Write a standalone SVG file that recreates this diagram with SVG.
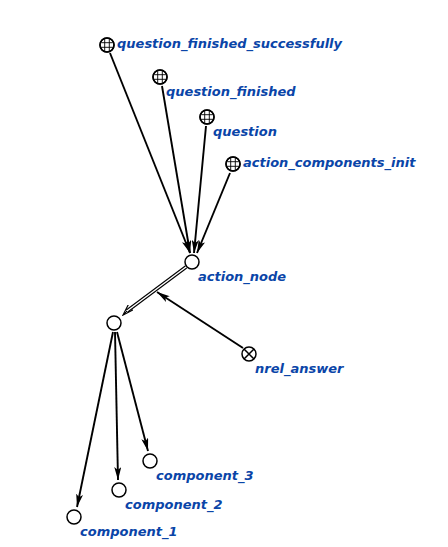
<svg xmlns="http://www.w3.org/2000/svg" width="448" height="547" viewBox="0 0 448 547">
<style>
.lbl{font-family:"DejaVu Sans",sans-serif;font-size:13px;font-weight:bold;font-style:italic;fill:#0a45a8}
.edge{stroke:#000;stroke-width:1.9;fill:none}
.node{fill:#fff;stroke:#000;stroke-width:1.5}
.grid{stroke:#000;stroke-width:0.9;fill:none}
</style>
<defs>
<marker id="ah" viewBox="0 0 13 7" refX="13" refY="3.5" markerWidth="13" markerHeight="7" markerUnits="userSpaceOnUse" orient="auto">
<path d="M0,0 L13,3.5 L0,7 L3,3.5 Z" fill="#000"/>
</marker>
<marker id="ah2" viewBox="0 0 12 8" refX="11" refY="4" markerWidth="12" markerHeight="8" markerUnits="userSpaceOnUse" orient="auto">
<path d="M0,0.5 L11,4 L0,7.5" fill="none" stroke="#000" stroke-width="1.2"/>
</marker>
<clipPath id="cc"><circle cx="0" cy="0" r="6.5"/></clipPath>
<g id="gridnode">
<circle class="node" cx="0" cy="0" r="7"/>
<g clip-path="url(#cc)" class="grid">
<path d="M-2.3,-7 V7 M2.3,-7 V7 M-7,-2.3 H7 M-7,2.3 H7"/>
</g>
<circle cx="0" cy="0" r="7" fill="none" stroke="#000" stroke-width="1.5"/>
</g>
</defs>
<g id="connectors">
<line class="edge" x1="110" y1="53" x2="190" y2="253" marker-end="url(#ah)"/>
<line class="edge" x1="162" y1="86" x2="190" y2="253" marker-end="url(#ah)"/>
<line class="edge" x1="206" y1="126" x2="194" y2="253" marker-end="url(#ah)"/>
<line class="edge" x1="230" y1="173" x2="197" y2="253" marker-end="url(#ah)"/>
<line x1="186" y1="267" x2="127" y2="311" stroke="#000" stroke-width="3.6"/>
<line x1="186" y1="267" x2="127" y2="311" stroke="#fff" stroke-width="1.4"/>
<line x1="127" y1="311" x2="123" y2="315" stroke="#000" stroke-width="1" marker-end="url(#ah2)"/>
<line class="edge" x1="243" y1="348" x2="157" y2="292" marker-end="url(#ah)"/>
<line class="edge" x1="113" y1="332" x2="77" y2="507" marker-end="url(#ah)"/>
<line class="edge" x1="115" y1="332" x2="118" y2="480" marker-end="url(#ah)"/>
<line class="edge" x1="117" y1="332" x2="148" y2="451" marker-end="url(#ah)"/>
</g>
<g id="n_qfs"><use href="#gridnode" x="107" y="45"/><text class="lbl" x="117" y="48">question_finished_successfully</text></g>
<g id="n_qf"><use href="#gridnode" x="160" y="77"/><text class="lbl" x="166" y="96">question_finished</text></g>
<g id="n_q"><use href="#gridnode" x="207" y="117"/><text class="lbl" x="213" y="136">question</text></g>
<g id="n_aci"><use href="#gridnode" x="233" y="164"/><text class="lbl" x="243" y="167">action_components_init</text></g>
<g id="n_action"><circle class="node" cx="192" cy="262" r="7"/><text class="lbl" x="198" y="281">action_node</text></g>
<g id="n_anon"><circle class="node" cx="114" cy="323" r="7"/></g>
<g id="n_nrel"><circle class="node" cx="249" cy="354" r="7"/><path d="M244,349 L254,359 M254,349 L244,359" stroke="#000" stroke-width="1.5"/><text class="lbl" x="255" y="373">nrel_answer</text></g>
<g id="n_c3"><circle class="node" cx="150" cy="461" r="7"/><text class="lbl" x="156" y="480">component_3</text></g>
<g id="n_c2"><circle class="node" cx="119" cy="490" r="7"/><text class="lbl" x="125" y="509">component_2</text></g>
<g id="n_c1"><circle class="node" cx="74" cy="517" r="7"/><text class="lbl" x="80" y="536">component_1</text></g>
</svg>
